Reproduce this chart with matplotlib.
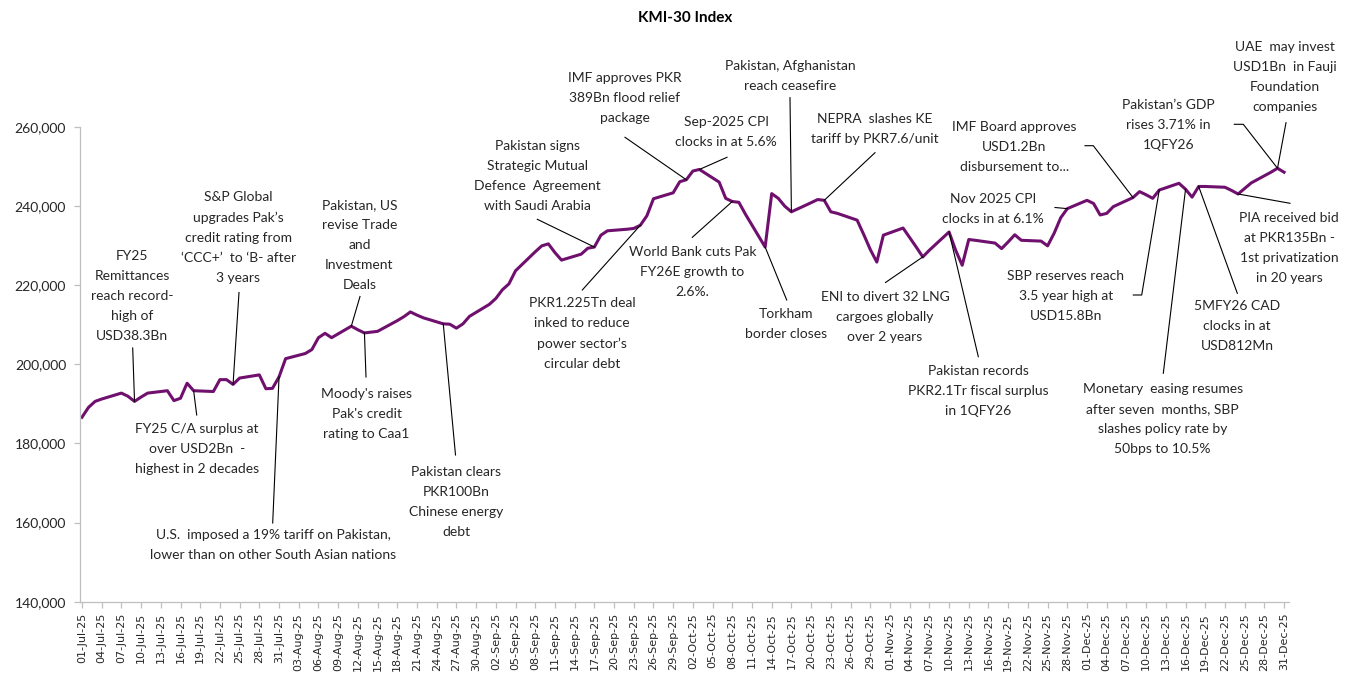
import matplotlib
matplotlib.use("Agg")
import matplotlib.pyplot as plt
import matplotlib.dates as mdates
from matplotlib.lines import Line2D
from matplotlib.ticker import FuncFormatter
from matplotlib.transforms import IdentityTransform
import pandas as pd

dates = [
    "2025-07-01", "2025-07-02", "2025-07-03", "2025-07-04", "2025-07-07", "2025-07-08",
    "2025-07-09", "2025-07-10", "2025-07-11", "2025-07-14", "2025-07-15", "2025-07-16",
    "2025-07-17", "2025-07-18", "2025-07-21", "2025-07-22", "2025-07-23", "2025-07-24",
    "2025-07-25", "2025-07-28", "2025-07-29", "2025-07-30", "2025-07-31", "2025-08-01",
    "2025-08-04", "2025-08-05", "2025-08-06", "2025-08-07", "2025-08-08", "2025-08-11",
    "2025-08-12", "2025-08-13", "2025-08-15", "2025-08-18", "2025-08-19", "2025-08-20",
    "2025-08-21", "2025-08-22", "2025-08-25", "2025-08-26", "2025-08-27", "2025-08-28",
    "2025-08-29", "2025-09-01", "2025-09-02", "2025-09-03", "2025-09-04", "2025-09-05",
    "2025-09-08", "2025-09-09", "2025-09-10", "2025-09-11", "2025-09-12", "2025-09-15",
    "2025-09-16", "2025-09-17", "2025-09-18", "2025-09-19", "2025-09-22", "2025-09-23",
    "2025-09-24", "2025-09-25", "2025-09-26", "2025-09-29", "2025-09-30", "2025-10-01",
    "2025-10-02", "2025-10-03", "2025-10-06", "2025-10-07", "2025-10-08", "2025-10-09",
    "2025-10-10", "2025-10-13", "2025-10-14", "2025-10-15", "2025-10-16", "2025-10-17",
    "2025-10-20", "2025-10-21", "2025-10-22", "2025-10-23", "2025-10-24", "2025-10-27",
    "2025-10-28", "2025-10-29", "2025-10-30", "2025-10-31", "2025-11-03", "2025-11-04",
    "2025-11-05", "2025-11-06", "2025-11-07", "2025-11-10", "2025-11-11", "2025-11-12",
    "2025-11-13", "2025-11-14", "2025-11-17", "2025-11-18", "2025-11-19", "2025-11-20",
    "2025-11-21", "2025-11-24", "2025-11-25", "2025-11-26", "2025-11-27", "2025-11-28",
    "2025-12-01", "2025-12-02", "2025-12-03", "2025-12-04", "2025-12-05", "2025-12-08",
    "2025-12-09", "2025-12-10", "2025-12-11", "2025-12-12", "2025-12-15", "2025-12-16",
    "2025-12-17", "2025-12-18", "2025-12-19", "2025-12-22", "2025-12-23", "2025-12-24",
    "2025-12-26", "2025-12-29", "2025-12-30", "2025-12-31",
]
kmi30 = [
    186600, 189100, 190600, 191200, 192700, 191900,
    190600, 191700, 192700, 193300, 190800, 191400,
    195200, 193300, 193100, 196100, 196100, 194900,
    196500, 197300, 193800, 193900, 196800, 201400,
    202700, 203700, 206700, 207800, 206700, 209600,
    208700, 207900, 208300, 211000, 212000, 213200,
    212400, 211700, 210200, 210100, 209100, 210200,
    212100, 215100, 216600, 218800, 220300, 223600,
    228400, 229900, 230400, 228200, 226300, 227800,
    229300, 229600, 232600, 233700, 234100, 234300,
    235100, 237500, 241800, 243300, 246100, 246600,
    248800, 249200, 246000, 241900, 241100, 240900,
    237900, 229600, 243100, 241900, 239900, 238500,
    240800, 241600, 241400, 238500, 238100, 236400,
    232800, 229000, 225800, 232600, 234400, 232000,
    229600, 227100, 228800, 233400, 228800, 225000,
    231500, 231300, 230600, 229200, 230900, 232700,
    231300, 231100, 229900, 233100, 237000, 239300,
    241400, 240600, 237700, 238100, 239800, 242100,
    243600, 242800, 241900, 244000, 245700, 244200,
    242200, 244900, 244900, 244700, 243900, 243000,
    245800, 248500, 249500, 248500,
]

note_dates = [
    "2025-07-09", "2025-07-24", "2025-08-11", "2025-07-18", "2025-07-31",
    "2025-08-13", "2025-08-25", "2025-09-17", "2025-10-01", "2025-10-03",
    "2025-09-24", "2025-10-08", "2025-10-17", "2025-10-22", "2025-10-13",
    "2025-11-06", "2025-11-10", "2025-11-28", "2025-12-08", "2025-12-12",
    "2025-12-30", "2025-12-30", "2025-12-24", "2025-12-18", "2025-12-16",
]
note_texts = [
    "FY25\nRemittances\nreach record-\nhigh of\nUSD38.3Bn",
    "S&P Global\nupgrades Pak\u2019s\ncredit rating from\n\u2018CCC+\u2019  to \u2018B- after\n3 years",
    "Pakistan, US\nrevise Trade\nand\nInvestment\nDeals",
    "FY25 C/A surplus at\nover USD2Bn  -\nhighest in 2 decades",
    "U.S.  imposed a 19% tariff on Pakistan,\nlower than on other South Asian nations",
    "Moody's raises\nPak's credit\nrating to Caa1",
    "Pakistan clears\nPKR100Bn\nChinese energy\ndebt",
    "Pakistan signs\nStrategic Mutual\nDefence  Agreement\nwith Saudi Arabia",
    "IMF approves PKR\n389Bn flood relief\npackage",
    "Sep-2025 CPI\nclocks in at 5.6%",
    "PKR1.225Tn deal\ninked to reduce\npower sector\u2019s\ncircular debt",
    "World Bank cuts Pak\nFY26E growth to\n2.6%.",
    "Pakistan, Afghanistan\nreach ceasefire",
    "NEPRA  slashes KE\ntariff by PKR7.6/unit",
    "Torkham\nborder closes",
    "ENI to divert 32 LNG\ncargoes globally\nover 2 years",
    "Pakistan records\nPKR2.1Tr fiscal surplus\nin 1QFY26",
    "Nov 2025 CPI\nclocks in at 6.1%",
    "IMF Board approves\nUSD1.2Bn\ndisbursement to...",
    "SBP reserves reach\n3.5 year high at\nUSD15.8Bn",
    "Pakistan\u2019s GDP\nrises 3.71% in\n1QFY26",
    "UAE  may invest\nUSD1Bn  in Fauji\nFoundation\ncompanies",
    "PIA received bid\nat PKR135Bn -\n1st privatization\nin 20 years",
    "5MFY26 CAD\nclocks in at\nUSD812Mn",
    "Monetary  easing resumes\nafter seven  months, SBP\nslashes policy rate by\n50bps to 10.5%",
]

# layout: label centre and leader start points, image pixels (y measured down)
note_pos = [
    (132, 295.5), (238.5, 237.5), (359.5, 244.7), (196.7, 449.2), (273.5, 545),
    (366.5, 413.5), (456, 501.7), (537.3, 175.5), (625, 98.3), (726, 132.2),
    (582.3, 333.3), (692.3, 272.3), (790, 75.5), (875, 128.8), (786, 323.8),
    (885, 316.7), (978.3, 390.8), (993.3, 208.7), (1014.3, 146.7), (1065.7, 296),
    (1168.3, 125.3), (1285, 77.4), (1289.3, 247.8), (1237.3, 325.6), (1162.7, 419),
]
note_lead = [
    [(132.7, 348)], [(239, 292.5)], [(360, 296.5)], [(196.7, 415)], [(272.7, 523)],
    [(366, 377)], [(455.5, 455)], [(537.3, 219.3)], [(625, 137.3)], [(727, 157.3)],
    [(582.3, 290)], [(692.3, 237.3)], [(790, 97.7)], [(875, 152.7)], [(786.7, 300)],
    [(885.5, 282.5)], [(978.3, 356.7)], [(1055, 207.5)],
    [(1085, 145.7), (1093.3, 145.7)], [(1133.3, 295), (1141.7, 295)],
    [(1234.3, 124.3), (1243.3, 124.3)], [(1286, 122.7)], [(1290, 203.3)],
    [(1237.3, 293.3)], [(1163.3, 373.3)],
]

W, H = 1354, 676
TEXT = "#262626"
GREY = "#bfbfbf"

fig = plt.figure(figsize=(W / 100, H / 100), dpi=100)
ax = fig.add_axes([80 / W, 1 - 601.7 / H, 1209 / W, 475 / H])

x = pd.to_datetime(dates)
ax.plot(x, kmi30, color="#70106e", lw=2.2, solid_joinstyle="round")

start = mdates.date2num(pd.Timestamp("2025-07-01"))
end = mdates.date2num(pd.Timestamp("2025-12-31"))
ax.set_xlim(start - 0.3, end + 0.75)
ax.set_ylim(140000, 260000)
ax.set_yticks(range(140000, 260001, 20000))
ax.yaxis.set_major_formatter(FuncFormatter(lambda v, p: f"{v:,.0f}"))
ax.set_xticks(pd.date_range("2025-07-01", "2025-12-31", freq="3D"))
ax.xaxis.set_major_formatter(mdates.DateFormatter("%d-%b-%y"))

for side in ("top", "right"):
    ax.spines[side].set_visible(False)
for side in ("left", "bottom"):
    ax.spines[side].set_color(GREY)
    ax.spines[side].set_linewidth(0.9)
ax.tick_params(axis="both", color=GREY, length=4, width=0.9)
ax.tick_params(axis="y", labelsize=10, labelcolor=TEXT, pad=6)
ax.tick_params(axis="x", labelsize=8, labelcolor=TEXT, rotation=90, pad=4)
for lab in ax.get_yticklabels():
    lab.set_family("Lato")
for lab in ax.get_xticklabels():
    lab.set_family("DejaVu Sans")

fig.text(685 / W, 1 - 18 / H, "KMI-30 Index", ha="center", va="center",
         fontsize=11, fontweight="bold", family="Lato", color="black")

lookup = dict(zip(dates, kmi30))
for d, txt, (cx, cy), lead in zip(note_dates, note_texts, note_pos, note_lead):
    fig.text(cx / W, 1 - cy / H, txt, ha="center", va="center", fontsize=10,
             family="Lato", color=TEXT, linespacing=1.8)
    px, py = ax.transData.transform((mdates.date2num(pd.Timestamp(d)), lookup[d]))
    xs = [p[0] for p in lead] + [px]
    ys = [H - p[1] for p in lead] + [py]
    fig.add_artist(Line2D(xs, ys, transform=IdentityTransform(), color="black", lw=0.8))

fig.savefig("out.png", dpi=100)
